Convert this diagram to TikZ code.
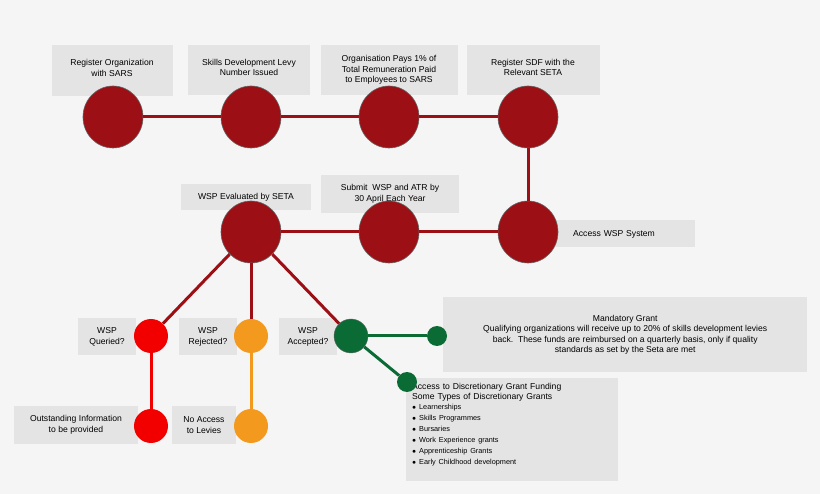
\documentclass[tikz,border=0pt]{standalone}
\usepackage{fontspec}
\setmainfont{Liberation Sans}
\usetikzlibrary{shapes.geometric}
\definecolor{bg}{HTML}{F5F5F5}
\definecolor{bx}{HTML}{E4E4E4}
\definecolor{dred}{HTML}{9C0F15}
\definecolor{bred}{HTML}{F20000}
\definecolor{org}{HTML}{F39A1E}
\definecolor{grn}{HTML}{0B6B35}
\begin{document}
\begin{tikzpicture}[x=1pt,y=-1pt,
  big/.style={ellipse,draw=black!60,line width=0.6pt,fill=dred,minimum width=60pt,minimum height=62pt,inner sep=0pt},
  mid/.style={circle,minimum size=34pt,inner sep=0pt},
  sml/.style={circle,fill=grn,minimum size=20pt,inner sep=0pt},
  box/.style={fill=bx,inner sep=0pt,font=\fontsize{8.6}{10.5}\selectfont,align=center},
  rl/.style={dred,line width=3pt},
  gl/.style={grn,line width=3pt}]
\fill[bg] (0,0) rectangle (820,494);
\useasboundingbox (0,0) rectangle (820,494);
% boxes
\node[box,minimum width=121pt,minimum height=51pt,anchor=north] (t1) at (112,45) {\raisebox{12pt}{\begin{tabular}{c}Register Organization\\with SARS\end{tabular}}};
\node[box,minimum width=122pt,minimum height=50pt,anchor=north] (t2) at (249,45) {\raisebox{12pt}{\begin{tabular}{c}Skills Development Levy\\Number Issued\end{tabular}}};
\node[box,minimum width=137pt,minimum height=50pt,anchor=north] (t3) at (389,45) {Organisation Pays 1\% of\\Total Remuneration Paid\\to Employees to SARS};
\node[box,minimum width=133pt,minimum height=50pt,anchor=north] (t4) at (533,45) {\raisebox{12pt}{\begin{tabular}{c}Register SDF with the\\Relevant SETA\end{tabular}}};
\node[box,minimum width=130pt,minimum height=26pt] (t5) at (246,197) {WSP Evaluated by SETA};
\node[box,minimum width=138pt,minimum height=38pt] (t6) at (390,194) {Submit\ \ WSP and ATR by\\30 April Each Year};
\node[box,minimum width=140pt,minimum height=27pt,anchor=west,text width=126pt,align=left] (t7) at (555,234) {\hspace*{11pt}Access WSP System};
% lines
\node[big] (c1) at (113,117) {};
\node[big] (c2) at (251,117) {};
\node[big] (c3) at (389,117) {};
\node[big] (c4) at (528,117) {};
\node[big] (c5) at (528,232) {};
\node[big] (c6) at (389,232) {};
\node[big] (c7) at (251,232) {};
\node[box,minimum width=58pt,minimum height=37pt] (lq) at (107,337) {WSP\\Queried?};
\node[box,minimum width=58pt,minimum height=37pt] (lr) at (208,337) {WSP\\Rejected?};
\node[box,minimum width=58pt,minimum height=37pt] (la) at (308,337) {WSP\\Accepted?};
\node[box,minimum width=124pt,minimum height=38pt] (lo) at (76,425) {Outstanding Information\\to be provided};
\node[box,minimum width=64pt,minimum height=38pt] (ln) at (204,425) {No Access\\to Levies};
\node[box,minimum width=364pt,minimum height=75pt,anchor=north west] (mg) at (443,297) {Mandatory Grant\\Qualifying organizations will receive up to 20\% of skills development levies\\back.\ \ These funds are reimbursed on a quarterly basis, only if quality\\standards as set by the Seta are met};
\node[box,minimum width=212pt,minimum height=103pt,anchor=north west,text width=200pt,align=left] (dg) at (406,378) {\begin{minipage}[t][97pt][t]{200pt}\raggedright\vspace{2pt}Access to Discretionary Grant Funding\\Some Types of Discretionary Grants\\[-1pt]
{\fontsize{7.3}{11}\selectfont $\bullet$ Learnerships\\$\bullet$ Skills Programmes\\$\bullet$ Bursaries\\$\bullet$ Work Experience grants\\$\bullet$ Apprenticeship Grants\\$\bullet$ Early Childhood development}\end{minipage}};
\node[mid,fill=bred] (q) at (151,336) {};
\node[mid,fill=org] (r) at (251,336) {};
\node[mid,fill=grn,draw=black!60] (a) at (351,336) {};
\node[mid,fill=bred] (q2) at (151,426) {};
\node[mid,fill=org] (r2) at (251,426) {};
\node[sml] (g1) at (437,336) {};
\node[sml] (g2) at (407,382) {};
\begin{scope}[on background layer/.style={}]
\end{scope}
\draw[rl] (c1) -- (c2); \draw[rl] (c2) -- (c3); \draw[rl] (c3) -- (c4);
\draw[rl] (c4) -- (c5); \draw[rl] (c5) -- (c6); \draw[rl] (c6) -- (c7);
\draw[rl] (c7) -- (q); \draw[rl] (c7) -- (r); \draw[rl] (c7) -- (a);
\draw[bred,line width=3pt] (q) -- (q2);
\draw[org,line width=3pt] (r) -- (r2);
\draw[gl] (a) -- (g1); \draw[gl] (a) -- (g2);
\end{tikzpicture}
\end{document}
